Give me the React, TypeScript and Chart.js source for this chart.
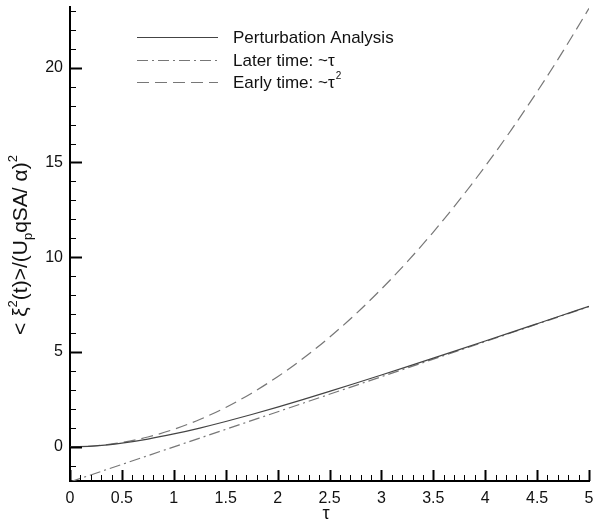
import React, { useEffect, useRef } from 'react';
import { Chart, registerables } from 'chart.js';

Chart.register(...registerables);

const tau = [0, 0.25, 0.5, 0.75, 1, 1.25, 1.5, 1.75, 2, 2.25, 2.5, 2.75, 3, 3.25, 3.5, 3.75, 4, 4.25, 4.5, 4.75, 5];
const perturbation = [0, 0.053, 0.197, 0.411, 0.681, 0.993, 1.338, 1.709, 2.1, 2.507, 2.927, 3.356, 3.792, 4.234, 4.681, 5.131, 5.584, 6.039, 6.496, 6.954, 7.412];
const earlyTime = [0, 0.058, 0.231, 0.52, 0.925, 1.445, 2.081, 2.833, 3.7, 4.683, 5.781, 6.995, 8.325, 9.77, 11.331, 13.008, 14.8, 16.708, 18.731, 20.87, 23.125];
const laterTau = [0, 5];
const laterTime = [-1.85, 7.4];

const xTickValues = [0, 0.5, 1, 1.5, 2, 2.5, 3, 3.5, 4, 4.5, 5];
const yTickValues = [0, 5, 10, 15, 20];
const legendLabels = ['Perturbation Analysis', 'Later time: ~τ', 'Early time: ~τ'];
const legendSup = ['', '', '2'];

const FONT = "'Liberation Sans', Arial, Helvetica, sans-serif";

export default function App() {
  const ref = useRef<HTMLCanvasElement | null>(null);

  useEffect(() => {
    document.body.style.margin = '0';
    const canvas = ref.current;
    if (!canvas) return;

    const decor = {
      id: 'decor',
      afterDatasetsDraw(chart: any) {
        const { ctx, chartArea, scales } = chart;
        const xs = scales.x;
        const ys = scales.y;
        ctx.save();
        ctx.strokeStyle = '#000';
        for (let i = 0; i <= 50; i++) {
          const v = i / 10;
          const major = i % 5 === 0;
          const px = Math.round(xs.getPixelForValue(v)) + 0.5;
          ctx.lineWidth = major ? 2 : 1;
          ctx.beginPath();
          ctx.moveTo(px, chartArea.bottom);
          ctx.lineTo(px, chartArea.bottom - (major ? 11 : 6));
          ctx.stroke();
        }
        for (let v = -1; v <= 23; v++) {
          const major = v % 5 === 0;
          const py = Math.round(ys.getPixelForValue(v)) + 0.5;
          ctx.lineWidth = major ? 2 : 1;
          ctx.beginPath();
          ctx.moveTo(chartArea.left, py);
          ctx.lineTo(chartArea.left + (major ? 12 : 6), py);
          ctx.stroke();
        }
        ctx.restore();

        // legend
        ctx.save();
        const rows = [37, 60, 82];
        const ds = chart.data.datasets;
        for (let i = 0; i < 3; i++) {
          const d = ds[i];
          ctx.strokeStyle = d.borderColor;
          ctx.lineWidth = d.borderWidth;
          ctx.setLineDash(d.borderDash || []);
          ctx.beginPath();
          ctx.moveTo(137, rows[i] + 0.5);
          ctx.lineTo(218, rows[i] + 0.5);
          ctx.stroke();
          ctx.setLineDash([]);
          ctx.fillStyle = '#111';
          ctx.font = `17px ${FONT}`;
          ctx.textBaseline = 'middle';
          ctx.textAlign = 'left';
          ctx.fillText(legendLabels[i], 233, rows[i] + 1);
          if (legendSup[i]) {
            const w = ctx.measureText(legendLabels[i]).width;
            ctx.font = `10px ${FONT}`;
            ctx.fillText(legendSup[i], 233 + w + 1, rows[i] - 6);
          }
        }
        ctx.restore();

        // x title
        ctx.save();
        ctx.fillStyle = '#111';
        ctx.font = `18px ${FONT}`;
        ctx.textAlign = 'center';
        ctx.textBaseline = 'middle';
        ctx.fillText('τ', 326, 514);
        ctx.restore();

        // y title
        ctx.save();
        const parts: [string, number][] = [
          ['< ξ', 0], ['2', 1], ['(t)>/(U', 0], ['p', -1], ['qSA/ α)', 0], ['2', 1],
        ];
        const big = `21px ${FONT}`;
        const small = `13px ${FONT}`;
        let total = 0;
        const widths = parts.map(([t, k]) => {
          ctx.font = k === 0 ? big : small;
          const w = ctx.measureText(t).width;
          total += w;
          return w;
        });
        ctx.translate(21, 245);
        ctx.rotate(-Math.PI / 2);
        ctx.fillStyle = '#111';
        ctx.textBaseline = 'middle';
        ctx.textAlign = 'left';
        let cx = -total / 2;
        parts.forEach(([t, k], i) => {
          ctx.font = k === 0 ? big : small;
          const dy = k === 1 ? -8 : k === -1 ? 7 : 0;
          ctx.fillText(t, cx, dy);
          cx += widths[i];
        });
        ctx.restore();
      },
    };

    const chart = new Chart(canvas, {
      type: 'line',
      data: {
        datasets: [
          {
            label: legendLabels[0],
            data: tau.map((t, i) => ({ x: t, y: perturbation[i] })),
            borderColor: '#444',
            borderWidth: 1.2,
            pointRadius: 0,
            cubicInterpolationMode: 'monotone',
          },
          {
            label: legendLabels[1],
            data: laterTau.map((t, i) => ({ x: t, y: laterTime[i] })),
            borderColor: '#777',
            borderWidth: 1.2,
            borderDash: [11, 4, 2, 4],
            pointRadius: 0,
          },
          {
            label: legendLabels[2],
            data: tau.map((t, i) => ({ x: t, y: earlyTime[i] })),
            borderColor: '#777',
            borderWidth: 1.2,
            borderDash: [12, 6],
            pointRadius: 0,
            cubicInterpolationMode: 'monotone',
          },
        ],
      } as any,
      options: {
        animation: false,
        responsive: false,
        maintainAspectRatio: false,
        layout: { padding: { top: 7, right: 6, left: 0, bottom: 0 } },
        plugins: { legend: { display: false }, tooltip: { enabled: false } },
        scales: {
          x: {
            type: 'linear',
            min: 0,
            max: 5,
            grid: { display: false, drawTicks: false },
            border: { display: true, color: '#000', width: 2 },
            ticks: {
              color: '#111', font: { family: FONT, size: 16 }, padding: 8, maxRotation: 0,
              callback: (v: any) => String(Number(v)),
            },
            afterBuildTicks: (s: any) => { s.ticks = xTickValues.map((v) => ({ value: v })); },
            afterFit: (s: any) => { s.height = 44; s.paddingLeft = 0; s.paddingRight = 0; },
          },
          y: {
            type: 'linear',
            min: -1.8,
            max: 23.2,
            grid: { display: false, drawTicks: false },
            border: { display: true, color: '#000', width: 2 },
            ticks: { color: '#111', font: { family: FONT, size: 16 }, padding: 7, callback: (v: any) => String(Number(v)) },
            afterBuildTicks: (s: any) => { s.ticks = yTickValues.map((v) => ({ value: v })); },
            afterFit: (s: any) => { s.width = 70; s.paddingTop = 0; s.paddingBottom = 0; },
          },
        },
      } as any,
      plugins: [decor],
    });

    return () => chart.destroy();
  }, []);

  return <canvas ref={ref} width={595} height={525} style={{ display: 'block', width: 595, height: 525 }} />;
}
